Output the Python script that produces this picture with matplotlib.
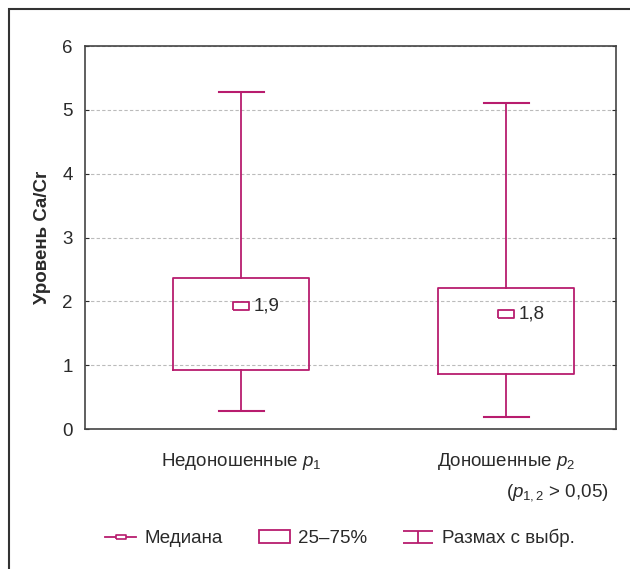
import matplotlib.pyplot as plt
from matplotlib.lines import Line2D
from matplotlib.patches import Patch, Rectangle
from matplotlib.path import Path

plt.rcParams["font.family"] = ["Liberation Sans", "DejaVu Sans"]
plt.rcParams["mathtext.fontset"] = "custom"
plt.rcParams["mathtext.rm"] = "Liberation Sans"
plt.rcParams["mathtext.it"] = "Liberation Sans:italic"

groups = [r"Недоношенные $\mathit{p}_1$", r"Доношенные $\mathit{p}_2$"]
medians = [1.93, 1.80]
median_labels = ["1,9", "1,8"]
q1 = [0.92, 0.86]
q3 = [2.37, 2.21]
whis_low = [0.28, 0.19]
whis_high = [5.28, 5.11]
yticks = [0, 1, 2, 3, 4, 5, 6]

col = "#B81C6E"
txt = "#2a2a2a"
fs = 13.5

fig = plt.figure(figsize=(6.3, 5.69), dpi=100)
ax = fig.add_axes([0.135, 0.246, 0.843, 0.673])

stats = []
for i in range(len(groups)):
    stats.append({"med": medians[i], "q1": q1[i], "q3": q3[i],
                  "whislo": whis_low[i], "whishi": whis_high[i], "fliers": []})

pos = [1, 2]
ax.bxp(stats, positions=pos, widths=0.513, showfliers=False,
       boxprops=dict(color=col, linewidth=1.3),
       whiskerprops=dict(color=col, linewidth=1.3),
       capprops=dict(color=col, linewidth=1.5),
       medianprops=dict(visible=False),
       capwidths=0.17, zorder=3)

# median: small horizontal rectangle
rect_marker = [(-1, -0.5), (1, -0.5), (1, 0.5), (-1, 0.5), (-1, -0.5)]
ax.plot(pos, medians, linestyle="none", marker=rect_marker, markersize=11,
        markerfacecolor="white", markeredgecolor=col, markeredgewidth=1.3, zorder=4)
for x, m, lab in zip(pos, medians, median_labels):
    ax.annotate(lab, (x, m), xytext=(9, 0), textcoords="offset points",
                va="center", ha="left", fontsize=fs, color=txt)

ax.set_xlim(0.411, 2.415)
ax.set_ylim(0, 6)
ax.set_yticks(yticks)
ax.set_xticks(pos)
ax.set_xticklabels(groups)
ax.tick_params(axis="x", length=0, pad=16, labelsize=fs, colors=txt)
ax.tick_params(axis="y", direction="in", length=3, left=True, right=True,
               labelsize=fs, pad=9, colors=txt)
ax.grid(axis="y", linestyle=(0, (3, 2)), color="#bbbbbb", linewidth=0.8)
ax.set_axisbelow(True)
for s in ax.spines.values():
    s.set_color("#444444")
    s.set_linewidth(1.2)

ax.set_ylabel("Уровень Ca/Cr", fontsize=13.5, fontweight="bold", color=txt)
ax.yaxis.set_label_coords(-0.064, 0.5)

fig.text(0.885, 0.134, r"($\mathit{p}_{1,2}$ > 0,05)", ha="center", va="center",
         fontsize=fs, color=txt)

# range icon: I-beam
range_path = Path([(-1, 0.42), (1, 0.42), (0, 0.42), (0, -0.42), (-1, -0.42), (1, -0.42)],
                  [Path.MOVETO, Path.LINETO, Path.MOVETO,
                   Path.LINETO, Path.MOVETO, Path.LINETO])
handles = [
    Line2D([], [], color=col, linewidth=1.3, marker=rect_marker, markersize=7,
           markerfacecolor="white", markeredgecolor=col, markeredgewidth=1.2),
    Patch(facecolor="white", edgecolor=col, linewidth=1.3),
    Line2D([], [], linestyle="none", marker=range_path, markersize=22,
           markeredgecolor=col, markeredgewidth=1.3, fillstyle="none"),
]
labels = ["Медиана", "25–75%", "Размах с выбр."]
leg = fig.legend(handles, labels, loc="center", bbox_to_anchor=(0.54, 0.054),
                 ncol=3, frameon=False, fontsize=fs, handlelength=1.66,
                 columnspacing=1.9, handletextpad=0.45)
for t in leg.get_texts():
    t.set_color(txt)

fig.patches.append(Rectangle((0.0143, -0.1), 1.2, 1.084, transform=fig.transFigure,
                             fill=False, edgecolor="#333333", linewidth=1.5))

fig.savefig("out.png", dpi=100)
